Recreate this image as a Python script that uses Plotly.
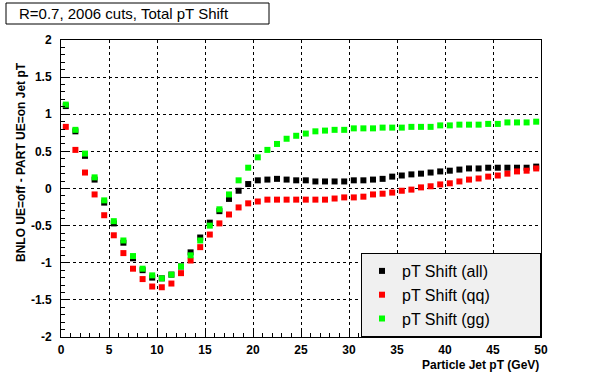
import plotly.graph_objects as go

# Bin centres of the particle jet pT (GeV)
pt = [0.5 + i for i in range(50)]

shift_all = [1.11, 0.77, 0.44, 0.12, -0.19, -0.47, -0.73, -0.94, -1.10, -1.20,
             -1.21, -1.16, -1.05, -0.86, -0.66, -0.46, -0.305, -0.14, -0.03, 0.06,
             0.11, 0.12, 0.13, 0.12, 0.11, 0.11, 0.095, 0.095, 0.095, 0.095,
             0.11, 0.11, 0.12, 0.13, 0.16, 0.175, 0.19, 0.20, 0.215, 0.23,
             0.24, 0.255, 0.27, 0.27, 0.28, 0.28, 0.28, 0.28, 0.28, 0.295]

shift_qq = [0.83, 0.52, 0.215, -0.08, -0.36, -0.63, -0.87, -1.08, -1.22, -1.32,
            -1.33, -1.28, -1.14, -0.97, -0.79, -0.62, -0.47, -0.35, -0.255, -0.20,
            -0.175, -0.15, -0.15, -0.15, -0.15, -0.15, -0.15, -0.15, -0.135, -0.12,
            -0.12, -0.11, -0.08, -0.07, -0.055, -0.03, -0.015, 0.015, 0.03, 0.055,
            0.07, 0.095, 0.12, 0.135, 0.16, 0.175, 0.20, 0.23, 0.24, 0.27]

shift_gg = [1.13, 0.79, 0.47, 0.15, -0.16, -0.44, -0.70, -0.91, -1.08, -1.17,
            -1.21, -1.16, -1.05, -0.90, -0.70, -0.50, -0.28, -0.08, 0.11, 0.28,
            0.42, 0.52, 0.60, 0.67, 0.71, 0.74, 0.77, 0.78, 0.79, 0.79,
            0.81, 0.81, 0.81, 0.82, 0.82, 0.82, 0.83, 0.83, 0.83, 0.85,
            0.85, 0.86, 0.86, 0.86, 0.87, 0.87, 0.89, 0.89, 0.89, 0.90]

series_names = ["pT Shift (all)", "pT Shift (qq)", "pT Shift (gg)"]
series_colors = ["#000000", "#ff0000", "#00ff00"]

x_ticks = [0, 5, 10, 15, 20, 25, 30, 35, 40, 45, 50]
y_ticks = [-2, -1.5, -1, -0.5, 0, 0.5, 1, 1.5, 2]
y_tick_text = ["-2", "-1.5", "-1", "-0.5", "0", "0.5", "1", "1.5", "2"]

title_text = "R=0.7, 2006 cuts, Total pT Shift"
x_title = "Particle Jet pT (GeV)"
y_title = "BNLO UE=off - PART UE=on Jet pT"

FONT = "Liberation Sans, Arial, Helvetica, sans-serif"
PAD = "\u00a0" * 10  # widen the legend box to the reference width

fig = go.Figure()
for name, vals, col in zip(series_names, [shift_all, shift_qq, shift_gg], series_colors):
    fig.add_trace(go.Scatter(
        x=pt, y=vals, mode="markers", name=name + PAD,
        marker=dict(symbol="square", size=6, color=col, line=dict(width=0)),
    ))

W, H = 600, 373
L, R, T, B = 61, 59, 40, 36
pw, ph = W - L - R, H - T - B

def px_x(px):
    return (px - L) / pw

def px_y(py):
    return (H - B - py) / ph

axis_common = dict(
    showline=True, linecolor="black", linewidth=1, mirror=True,
    ticks="inside", tickcolor="black", tickwidth=1,
    showgrid=True, gridcolor="black", gridwidth=1, griddash="3px,3px",
    zeroline=False, automargin=False,
    tickfont=dict(family=FONT, size=12, color="black", weight="bold"),
)

fig.update_xaxes(
    range=[0, 50], tickmode="array", tickvals=x_ticks,
    ticktext=[str(v) for v in x_ticks], ticklen=8,
    minor=dict(ticks="inside", ticklen=4, dtick=1, tickcolor="black", showgrid=False),
    ticklabelstandoff=2,
    **axis_common,
)
fig.update_yaxes(
    range=[-2, 2], tickmode="array", tickvals=y_ticks, ticktext=y_tick_text,
    ticklen=8,
    minor=dict(ticks="inside", ticklen=4, dtick=0.1, tickcolor="black", showgrid=False),
    ticklabelstandoff=6,
    **axis_common,
)

fig.update_layout(
    width=W, height=H,
    margin=dict(l=L, r=R, t=T, b=B, pad=0, autoexpand=False),
    paper_bgcolor="white", plot_bgcolor="white",
    font=dict(family=FONT, color="black"),
    showlegend=True,
    legend=dict(
        x=1, y=0, xanchor="right", yanchor="bottom",
        bgcolor="#f0f0f0", bordercolor="black", borderwidth=1,
        font=dict(family=FONT, size=16, color="black"),
        tracegroupgap=0, itemsizing="trace",
    ),
    shapes=[
        dict(type="rect", xref="paper", yref="paper",
             x0=px_x(6), x1=px_x(269), y0=px_y(24), y1=px_y(3),
             line=dict(color="black", width=1), fillcolor="white", layer="above"),
    ],
    annotations=[
        dict(text=title_text, xref="paper", yref="paper",
             x=px_x(17), y=px_y(13.5), xanchor="left", yanchor="middle",
             showarrow=False, font=dict(family=FONT, size=15, color="black")),
        dict(text=x_title, xref="paper", yref="paper",
             x=1, y=px_y(365), xanchor="right", yanchor="middle",
             showarrow=False, font=dict(family=FONT, size=12, color="black", weight="bold")),
        dict(text=y_title, xref="paper", yref="paper", textangle=-90,
             x=px_x(21), y=px_y(60), xanchor="center", yanchor="top",
             showarrow=False, font=dict(family=FONT, size=12, color="black", weight="bold")),
    ],
)

fig.write_html(
    "out.html",
    config={"displayModeBar": False},
    post_script="document.body.style.margin='0';document.body.style.padding='0';",
)
